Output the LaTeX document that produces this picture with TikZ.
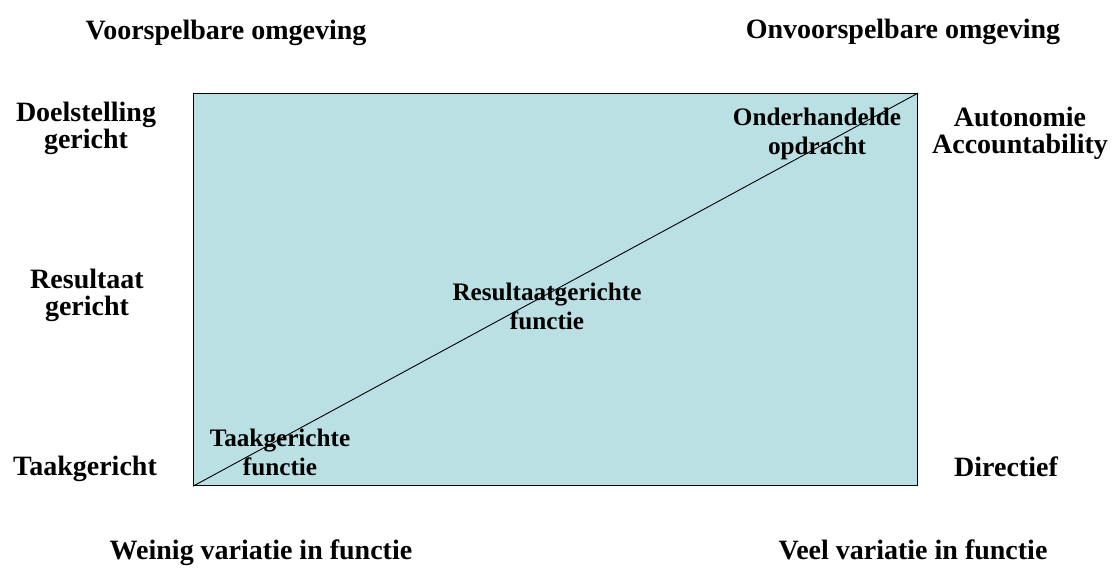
\documentclass[tikz,border=0pt]{standalone}
\usepackage{fontspec}
\setmainfont{Liberation Serif}
\definecolor{boxfill}{RGB}{187,224,227}
\tikzset{
  outer/.style={font=\fontsize{28}{27}\selectfont\bfseries, align=center, inner sep=0pt, anchor=base},
  inner/.style={font=\fontsize{25.2}{29}\selectfont\bfseries, align=center, inner sep=0pt, anchor=base},
  panel/.style={fill=boxfill, draw=black, line width=1.2pt},
  diag/.style={draw=black, line width=0.9pt}
}
\begin{document}
\begin{tikzpicture}[x=1pt,y=-1pt]
\useasboundingbox (0,0) rectangle (1113,580);
\node[panel, minimum width=724pt, minimum height=392pt, inner sep=0pt, anchor=north west] (box) at (193,93) {};
\draw[diag] (box.south west) -- (box.north east);
\node[outer] (vo) at (226,40) {Voorspelbare omgeving};
\node[outer] (ov) at (903,39) {Onvoorspelbare omgeving};
\node[outer] (dg) at (86,149) {Doelstelling\\gericht};
\node[outer] (rg) at (87,315) {Resultaat\\gericht};
\node[outer] (tg) at (85,475) {Taakgericht};
\node[outer] (aa) at (1020,154) {Autonomie\\Accountability};
\node[outer] (di) at (1006,476) {Directief};
\node[inner] (oo) at (817,155) {Onderhandelde\\opdracht};
\node[inner] (rf) at (547,329) {Resultaatgerichte\\functie};
\node[inner] (tf) at (280,475) {Taakgerichte\\functie};
\node[outer] (wv) at (261,559) {Weinig variatie in functie};
\node[outer] (vv) at (913,559) {Veel variatie in functie};
\end{tikzpicture}
\end{document}
